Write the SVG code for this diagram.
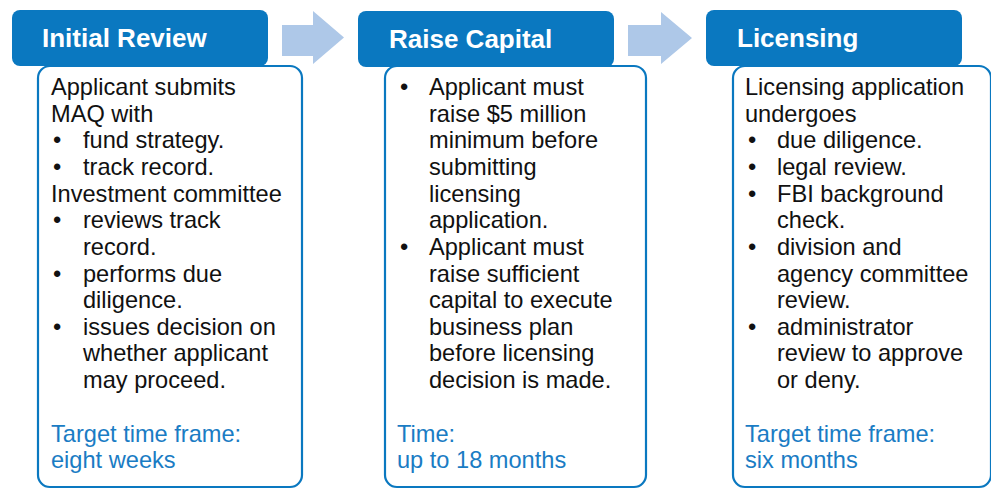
<svg xmlns="http://www.w3.org/2000/svg" width="991" height="489" viewBox="0 0 991 489">
<style>
.hdr{fill:#0a78c0}
.htxt{font-family:"Liberation Sans",Arial,sans-serif;font-weight:bold;font-size:26px;fill:#ffffff}
.box{fill:#ffffff;stroke:#0a78c0;stroke-width:2.2}
.t{font-family:"Liberation Sans",Arial,sans-serif;font-size:23.6px;fill:#111111}
.b{font-family:"Liberation Sans",Arial,sans-serif;font-size:23.6px;fill:#1a7cc4}
.arr{fill:#aec8e8}
</style>
<rect width="991" height="489" fill="#ffffff"/>
<g id="connectors">
<polygon class="arr" points="282,25 313,25 313,11 344,37.5 313,64 313,56 282,56"/>
<polygon class="arr" points="628,25 661,25 661,12 692,38 661,64 661,56 628,56"/>
</g>
<g id="initial-review">
<rect class="box" x="38" y="66" width="264" height="421" rx="12"/>
<rect class="hdr" x="12" y="10" width="256" height="56" rx="8"/>
<text class="htxt" x="42" y="46.5">Initial Review</text>
<text class="t" x="51" y="95">Applicant submits</text>
<text class="t" x="51" y="121.6">MAQ with</text>
<text class="t" x="53" y="148">•</text><text class="t" x="83" y="148">fund strategy.</text>
<text class="t" x="53" y="175">•</text><text class="t" x="83" y="175">track record.</text>
<text class="t" x="51" y="201.5">Investment committee</text>
<text class="t" x="53" y="228">•</text><text class="t" x="83" y="228">reviews track</text>
<text class="t" x="83" y="255">record.</text>
<text class="t" x="53" y="281.5">•</text><text class="t" x="83" y="281.5">performs due</text>
<text class="t" x="83" y="308">diligence.</text>
<text class="t" x="53" y="334.5">•</text><text class="t" x="83" y="334.5">issues decision on</text>
<text class="t" x="83" y="361">whether applicant</text>
<text class="t" x="83" y="387.5">may proceed.</text>
<text class="b" x="51" y="441.5">Target time frame:</text>
<text class="b" x="51" y="468">eight weeks</text>
</g>
<g id="raise-capital">
<rect class="box" x="385" y="66" width="261" height="421" rx="12"/>
<rect class="hdr" x="358" y="11" width="256" height="56" rx="8"/>
<text class="htxt" x="389" y="47.5">Raise Capital</text>
<text class="t" x="400" y="95">•</text><text class="t" x="429" y="95">Applicant must</text>
<text class="t" x="429" y="121.6">raise $5 million</text>
<text class="t" x="429" y="148">minimum before</text>
<text class="t" x="429" y="175">submitting</text>
<text class="t" x="429" y="201.5">licensing</text>
<text class="t" x="429" y="228">application.</text>
<text class="t" x="400" y="255">•</text><text class="t" x="429" y="255">Applicant must</text>
<text class="t" x="429" y="281.5">raise sufficient</text>
<text class="t" x="429" y="308">capital to execute</text>
<text class="t" x="429" y="334.5">business plan</text>
<text class="t" x="429" y="361">before licensing</text>
<text class="t" x="429" y="387.5">decision is made.</text>
<text class="b" x="397" y="441.5">Time:</text>
<text class="b" x="397" y="468">up to 18 months</text>
</g>
<g id="licensing">
<rect class="box" x="733" y="66" width="258" height="421" rx="12"/>
<rect class="hdr" x="706" y="10" width="256" height="56" rx="8"/>
<text class="htxt" x="737" y="46.5">Licensing</text>
<text class="t" x="745" y="95">Licensing application</text>
<text class="t" x="745" y="121.6">undergoes</text>
<text class="t" x="748" y="148">•</text><text class="t" x="777" y="148">due diligence.</text>
<text class="t" x="748" y="175">•</text><text class="t" x="777" y="175">legal review.</text>
<text class="t" x="748" y="201.5">•</text><text class="t" x="777" y="201.5">FBI background</text>
<text class="t" x="777" y="228">check.</text>
<text class="t" x="748" y="255">•</text><text class="t" x="777" y="255">division and</text>
<text class="t" x="777" y="281.5">agency committee</text>
<text class="t" x="777" y="308">review.</text>
<text class="t" x="748" y="334.5">•</text><text class="t" x="777" y="334.5">administrator</text>
<text class="t" x="777" y="361">review to approve</text>
<text class="t" x="777" y="387.5">or deny.</text>
<text class="b" x="745" y="441.5">Target time frame:</text>
<text class="b" x="745" y="468">six months</text>
</g>
</svg>
